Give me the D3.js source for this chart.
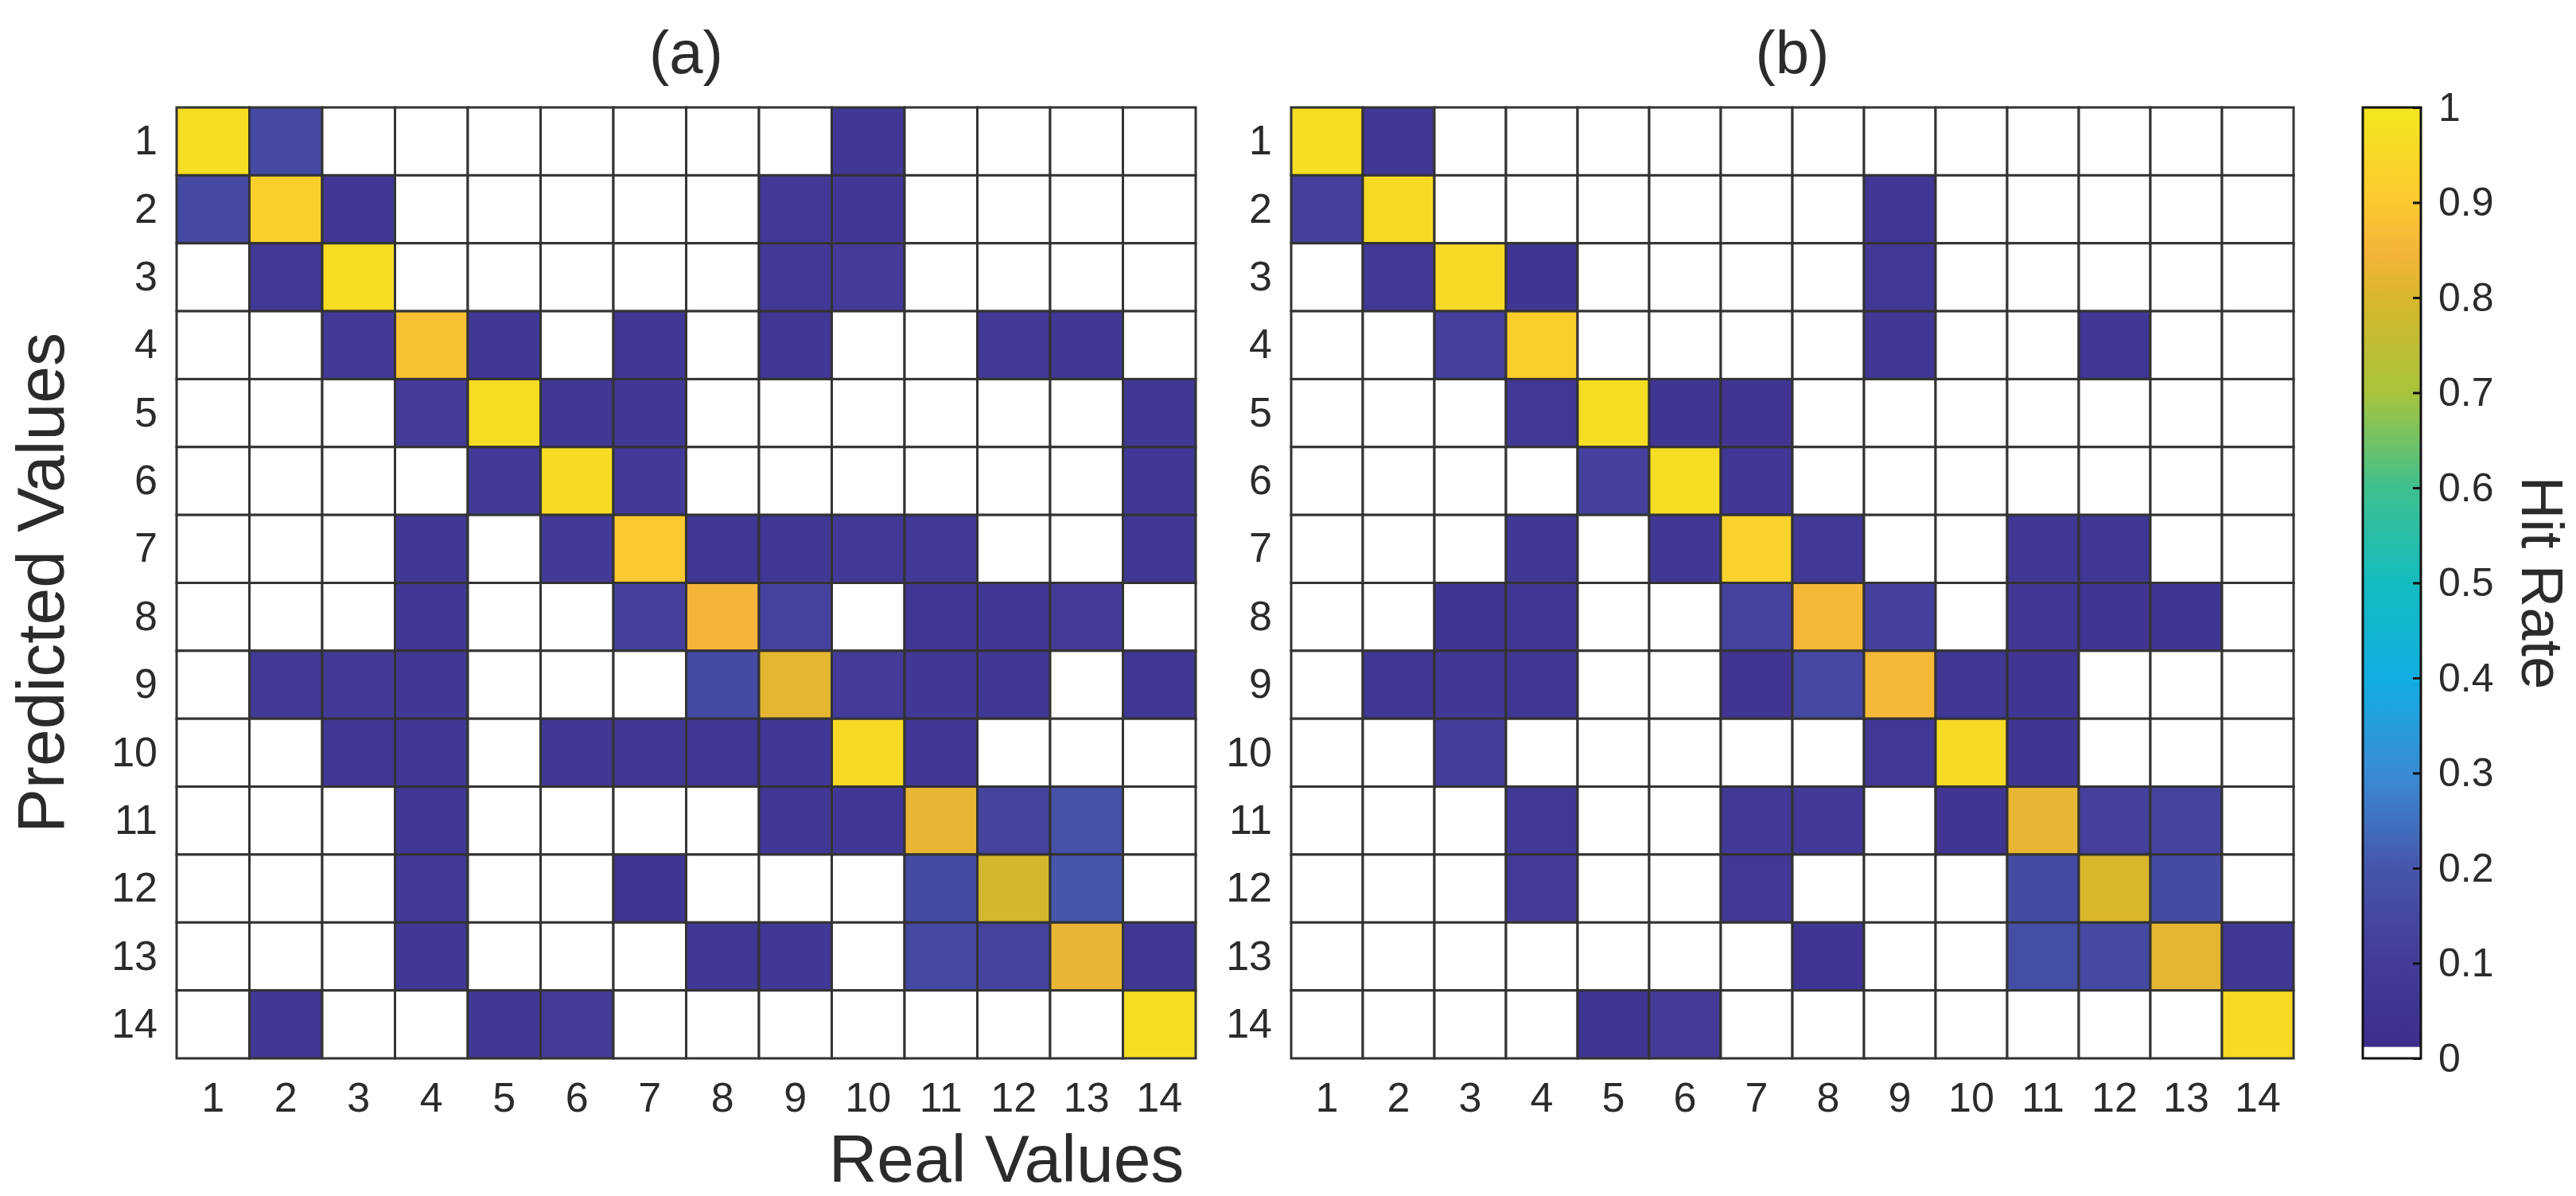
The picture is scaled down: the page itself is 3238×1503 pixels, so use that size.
<!DOCTYPE html>
<html><head><meta charset="utf-8">
<script src="https://cdn.jsdelivr.net/npm/d3@7"></script>
<style>body{margin:0;background:#fff}text{font-family:"Liberation Sans",Arial,sans-serif;fill:#2b2b2b}</style>
</head><body><svg id="c" width="3238" height="1503"></svg>
<script>
const labels = d3.range(1,15);
const cbTicks = [0,0.1,0.2,0.3,0.4,0.5,0.6,0.7,0.8,0.9,1];
// rows = predicted 1..14, cols = real 1..14
const matA = [
[0.97,0.15,0,0,0,0,0,0,0,0.07,0,0,0,0],
[0.15,0.92,0.07,0,0,0,0,0,0.08,0.07,0,0,0,0],
[0,0.08,0.97,0,0,0,0,0,0.08,0.1,0,0,0,0],
[0,0,0.09,0.88,0.07,0,0.07,0,0.07,0,0,0.08,0.07,0],
[0,0,0,0.1,0.97,0.07,0.07,0,0,0,0,0,0,0.07],
[0,0,0,0,0.09,0.96,0.09,0,0,0,0,0,0,0.07],
[0,0,0,0.07,0,0.09,0.9,0.07,0.07,0.08,0.08,0,0,0.07],
[0,0,0,0.07,0,0,0.12,0.85,0.13,0,0.07,0.07,0.1,0],
[0,0.08,0.09,0.07,0,0,0,0.16,0.82,0.1,0.07,0.07,0,0.07],
[0,0,0.07,0.07,0,0.07,0.07,0.07,0.07,0.96,0.07,0,0,0],
[0,0,0,0.07,0,0,0,0,0.07,0.07,0.83,0.13,0.18,0],
[0,0,0,0.09,0,0,0.06,0,0,0,0.16,0.79,0.2,0],
[0,0,0,0.07,0,0,0,0.07,0.07,0,0.15,0.13,0.83,0.07],
[0,0.07,0,0,0.07,0.1,0,0,0,0,0,0,0,0.97]];
const matB = [
[0.97,0.07,0,0,0,0,0,0,0,0,0,0,0,0],
[0.12,0.96,0,0,0,0,0,0,0.07,0,0,0,0,0],
[0,0.08,0.96,0.06,0,0,0,0,0.08,0,0,0,0,0],
[0,0,0.12,0.92,0,0,0,0,0.07,0,0,0.07,0,0],
[0,0,0,0.08,0.97,0.06,0.06,0,0,0,0,0,0,0],
[0,0,0,0,0.12,0.97,0.07,0,0,0,0,0,0,0],
[0,0,0,0.07,0,0.07,0.93,0.08,0,0,0.07,0.07,0,0],
[0,0,0.06,0.07,0,0,0.13,0.86,0.12,0,0.07,0.06,0.06,0],
[0,0.07,0.07,0.07,0,0,0.06,0.15,0.86,0.07,0.06,0,0,0],
[0,0,0.11,0,0,0,0,0,0.08,0.96,0.06,0,0,0],
[0,0,0,0.08,0,0,0.08,0.09,0,0.06,0.83,0.12,0.13,0],
[0,0,0,0.1,0,0,0.08,0,0,0,0.16,0.8,0.16,0],
[0,0,0,0,0,0,0,0.06,0,0,0.17,0.15,0.82,0.07],
[0,0,0,0,0.06,0.1,0,0,0,0,0,0,0,0.96]];
const stops=[0,0.1,0.2,0.3,0.4,0.5,0.6,0.7,0.8,0.85,0.9,1];
const cols=["#3b2c8c","#443b98","#4656ab","#3a8cd4","#12ade2","#14bcc0","#3ec08e","#a8c43c","#d8b72b","#f5b43a","#fcc930","#f2e61e"];
const color=d3.scaleLinear().domain(stops).range(cols).interpolate(d3.interpolateRgb);
const svg=d3.select("#c");
const yTop=135,yBot=1330;
function panel(mat,x0,x1,title){
  const x=d3.scaleBand().domain(labels).range([x0,x1]);
  const y=d3.scaleBand().domain(labels).range([yTop,yBot]);
  const g=svg.append("g");
  mat.forEach((row,i)=>row.forEach((v,j)=>{
    g.append("rect").attr("x",x(labels[j])).attr("y",y(labels[i])).attr("width",x.bandwidth()).attr("height",y.bandwidth())
     .attr("fill",v>0?color(v):"#fff").attr("stroke","#333").attr("stroke-width",3);
  }));
  const ax=svg.append("g").attr("transform",`translate(0,${yBot})`).call(d3.axisBottom(x).tickSize(0).tickPadding(20));
  const ay=svg.append("g").attr("transform",`translate(${x0},0)`).call(d3.axisLeft(y).tickSize(0).tickPadding(24));
  [ax,ay].forEach(a=>{a.select(".domain").remove();a.selectAll("text").attr("font-size",52).attr("font-family","Liberation Sans, Arial").attr("fill","#2b2b2b");});
  ax.selectAll("text").attr("dy","0.9em");
  svg.append("text").attr("x",(x0+x1)/2).attr("y",92).attr("text-anchor","middle").attr("font-size",76).text(title);
}
panel(matA,222,1503,"(a)");
panel(matB,1623,2883,"(b)");
svg.append("text").attr("transform",`translate(80,${(yTop+yBot)/2}) rotate(-90)`).attr("text-anchor","middle").attr("font-size",84).text("Predicted Values");
svg.append("text").attr("x",1265).attr("y",1485).attr("text-anchor","middle").attr("font-size",84).text("Real Values");
// colorbar
const cx0=2970,cw=73;
const cy=d3.scaleLinear().domain([0,1]).range([yBot,yTop]);
const defs=svg.append("defs");
const lg=defs.append("linearGradient").attr("id","gr").attr("x1",0).attr("y1",1).attr("x2",0).attr("y2",0);
stops.forEach((s,i)=>lg.append("stop").attr("offset",s).attr("stop-color",cols[i]));
svg.append("rect").attr("x",cx0).attr("y",yTop).attr("width",cw).attr("height",yBot-yTop).attr("fill","url(#gr)");
svg.append("rect").attr("x",cx0).attr("y",cy(0.012)).attr("width",cw).attr("height",cy(0)-cy(0.012)).attr("fill","#fff");
svg.append("rect").attr("x",cx0).attr("y",yTop).attr("width",cw).attr("height",yBot-yTop).attr("fill","none").attr("stroke","#111").attr("stroke-width",3);
const ac=svg.append("g").attr("transform",`translate(${cx0+cw},0)`).call(d3.axisRight(cy).tickValues(cbTicks).tickFormat(d=>d3.format("")(d)).tickSize(-10).tickPadding(22));
ac.select(".domain").remove();
ac.selectAll("line").attr("stroke","#111").attr("stroke-width",3);
ac.selectAll("text").attr("font-size",50).attr("fill","#2b2b2b");
svg.append("text").attr("transform",`translate(3170,${(yTop+yBot)/2}) rotate(90)`).attr("text-anchor","middle").attr("font-size",74).text("Hit Rate");
</script></body></html>
